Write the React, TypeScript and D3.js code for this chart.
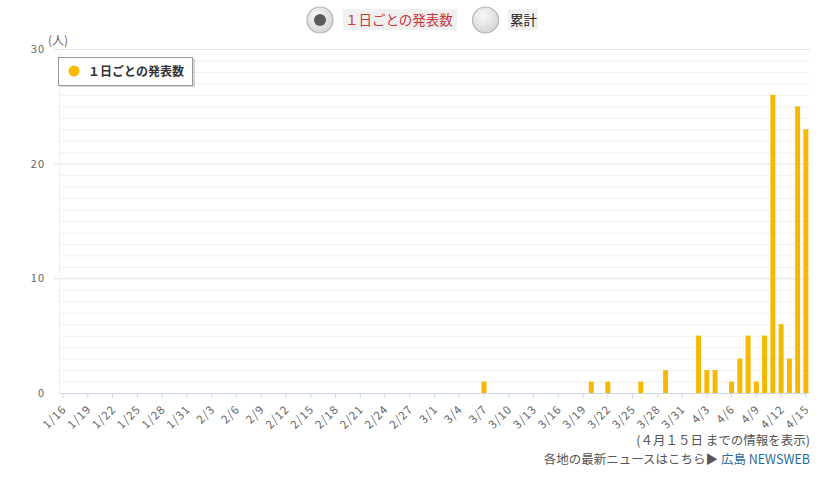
import React, { useEffect, useRef } from 'react';
import * as d3 from 'd3';

const startDate = new Date(2020, 0, 16);
const endDate = new Date(2020, 3, 15);

// days with reported cases (all other days are 0)
const caseDates = ['3/7', '3/20', '3/22', '3/26', '3/29', '4/2', '4/3', '4/4', '4/6', '4/7', '4/8', '4/9', '4/10', '4/11', '4/12', '4/13', '4/14', '4/15'];
const caseCounts = [1, 1, 1, 1, 2, 5, 2, 2, 1, 3, 5, 1, 5, 26, 6, 3, 25, 23];

const yTicks = [0, 10, 20, 30];
const seriesName = '１日ごとの発表数';
const font = '"Noto Sans CJK JP", "Noto Sans", sans-serif';

const fmt = d3.timeFormat('%-m/%-d');

export default function App() {
  const svgRef = useRef<SVGSVGElement>(null);

  useEffect(() => {
    if (!svgRef.current) return;
    const svg = d3.select(svgRef.current);
    svg.selectAll('*').remove();

    const left = 59, right = 810, top = 49, bottom = 393;
    const days = d3.timeDay.range(startDate, d3.timeDay.offset(endDate, 1)).map(fmt);

    const x = d3.scaleBand<string>().domain(days).range([left, right]).paddingInner(0.4).paddingOuter(0.2);
    const y = d3.scaleLinear().domain([0, 30]).range([bottom, top]);

    // minor gridlines
    svg.append('g')
      .selectAll('line')
      .data(d3.range(1, 31).filter(v => v % 10 !== 0))
      .join('line')
      .attr('x1', left).attr('x2', right)
      .attr('y1', d => y(d) + 0.5).attr('y2', d => y(d) + 0.5)
      .attr('stroke', '#f0f0f0');

    // major gridlines
    svg.append('g')
      .selectAll('line')
      .data(yTicks.filter(v => v > 0))
      .join('line')
      .attr('x1', left - 5).attr('x2', right)
      .attr('y1', d => y(d) + 0.5).attr('y2', d => y(d) + 0.5)
      .attr('stroke', '#e2e2e2');

    // y axis line (faint)
    svg.append('line')
      .attr('x1', left + 0.5).attr('x2', left + 0.5)
      .attr('y1', top).attr('y2', bottom)
      .attr('stroke', '#f0f0f0');

    // y labels
    svg.append('g')
      .selectAll('text')
      .data(yTicks)
      .join('text')
      .attr('x', 45)
      .attr('y', d => y(d) + 4)
      .attr('text-anchor', 'end')
      .attr('font-family', font)
      .attr('font-size', 11)
      .attr('letter-spacing', 1)
      .attr('fill', '#666')
      .text(d => d);

    svg.append('text')
      .attr('x', 48).attr('y', 45)
      .attr('font-family', font).attr('font-size', 12)
      .attr('fill', '#666')
      .text('(人)');

    // x axis
    const xAxis = svg.append('g')
      .attr('transform', `translate(0,${bottom})`)
      .call(d3.axisBottom(x).tickValues(days.filter((_, i) => i % 3 === 0)).tickSize(5).tickSizeOuter(0));
    xAxis.select('.domain').attr('stroke', '#ccd6eb').attr('d', `M${left},0.5H${right}`);
    xAxis.selectAll('.tick line').attr('stroke', '#ccd6eb');
    xAxis.selectAll('.tick text')
      .attr('font-family', font)
      .attr('font-size', 11.5)
      .attr('letter-spacing', 1)
      .attr('fill', '#666')
      .attr('text-anchor', 'end')
      .attr('dy', 0)
      .attr('transform', 'translate(4,17) rotate(-45)')
      .attr('y', 0).attr('x', 0);

    // bars
    svg.append('g')
      .selectAll('rect')
      .data(caseDates.map((d, i) => ({ d, v: caseCounts[i] })))
      .join('rect')
      .attr('x', d => x(d.d)!)
      .attr('width', x.bandwidth())
      .attr('y', d => y(d.v))
      .attr('height', d => y(0) - y(d.v))
      .attr('fill', '#f7b900');

    // legend
    const lg = svg.append('g');
    lg.append('rect').attr('x', 60).attr('y', 59).attr('width', 135).attr('height', 28).attr('fill', '#bbb').attr('opacity', 0.6);
    lg.append('rect').attr('x', 58.5).attr('y', 57.5).attr('width', 134).attr('height', 28).attr('fill', '#fff').attr('stroke', '#999');
    lg.append('circle').attr('cx', 74).attr('cy', 71).attr('r', 5.5).attr('fill', '#ffb900');
    lg.append('text').attr('x', 88).attr('y', 75.5)
      .attr('font-family', font).attr('font-size', 12).attr('font-weight', 'bold').attr('fill', '#333')
      .text(seriesName);

    // radio buttons
    const grad = svg.append('defs').append('radialGradient').attr('id', 'rg').attr('cx', '40%').attr('cy', '35%').attr('r', '70%');
    grad.append('stop').attr('offset', '0%').attr('stop-color', '#f8f8f8');
    grad.append('stop').attr('offset', '100%').attr('stop-color', '#d4d4d4');
    const radios = [
      { cx: 320, label: seriesName, tx: 343, tw: 114, color: '#c8363a', on: true },
      { cx: 485.5, label: '累計', tx: 508, tw: 30, color: '#222', on: false },
    ];
    radios.forEach(r => {
      svg.append('circle').attr('cx', r.cx).attr('cy', 20).attr('r', 13).attr('fill', 'url(#rg)').attr('stroke', '#b5b5b5').attr('stroke-width', 1.2);
      if (r.on) svg.append('circle').attr('cx', r.cx).attr('cy', 20).attr('r', 6).attr('fill', '#5a5a5a');
      svg.append('rect').attr('x', r.tx).attr('y', 9).attr('width', r.tw).attr('height', 21).attr('fill', '#f0f0f0');
      svg.append('text').attr('x', r.tx + 2).attr('y', 25)
        .attr('font-family', font).attr('font-size', 13.5).attr('fill', r.color)
        .text(r.label);
    });

    // footnotes
    svg.append('text').attr('x', 810).attr('y', 445)
      .attr('text-anchor', 'end').attr('font-family', font).attr('font-size', 12.5).attr('fill', '#555')
      .text('(４月１５日 までの情報を表示)');
    const t2 = svg.append('text').attr('x', 810).attr('y', 464)
      .attr('text-anchor', 'end').attr('font-family', font).attr('font-size', 12.5).attr('fill', '#555');
    t2.append('tspan').text('各地の最新ニュースはこちら▶ ');
    t2.append('tspan').attr('fill', '#2a6a98').text('広島 NEWSWEB');
  }, []);

  return (
    <div style={{ position: 'absolute', left: 0, top: 0 }}>
      <svg ref={svgRef} width={840} height={478} style={{ display: 'block', background: '#fff' }} />
    </div>
  );
}
